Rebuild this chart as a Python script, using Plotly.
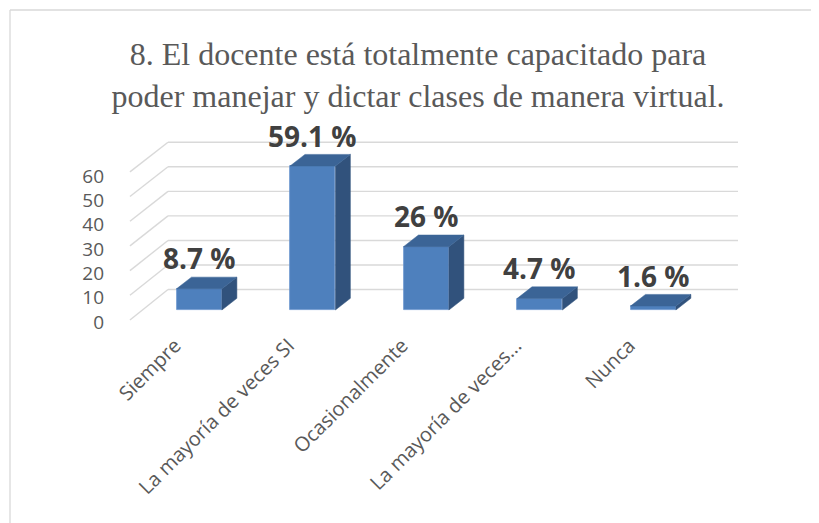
import plotly.graph_objects as go
import numpy as np

# ---- data ----
categories = ["Siempre", "La mayoría de veces SI", "Ocasionalmente",
              "La mayoría de veces...", "Nunca"]
values = [8.7, 59.1, 26, 4.7, 1.6]
y_ticks = [0, 10, 20, 30, 40, 50, 60]
title_text = "8. El docente está totalmente capacitado para<br>poder manejar y dictar clases de manera virtual."

# ---- style ----
FRONT = "#4E80BD"
TOP = "#3B6496"
SIDE = "#31527C"
GRID = "#D9D9D9"
TXT = "#595959"
BAR_W = 0.4
DX = 0.132      # depth offset in x units
DY = 4.8        # depth offset in y units
BACK_OFF = 8.4  # back wall offset (y units)
BACK_SC = 1.008
FRONT_OFF = -4.1
FRONT_SC = 1.014
X_FRONT = -0.61
X_BACK = -0.275
X_END = 4.747
PAGE_OFF = 8    # browser body margin
W, H = 819, 523

xs = np.arange(len(categories))

fig = go.Figure()

# front faces (bar trace)
fig.add_trace(go.Bar(x=xs, y=values, width=BAR_W, marker=dict(color=FRONT,
              line=dict(color="#6A96CE", width=0.8)), hoverinfo="skip",
              showlegend=False))

# side and top faces
for xi, v in zip(xs, values):
    hw = BAR_W / 2
    sx = [xi + hw, xi + hw + DX, xi + hw + DX, xi + hw, xi + hw]
    sy = [0, DY, v + DY, v, 0]
    fig.add_trace(go.Scatter(x=sx, y=sy, fill="toself", fillcolor=SIDE,
                             mode="lines", line=dict(color=SIDE, width=0.5),
                             hoverinfo="skip", showlegend=False))
    tx = [xi - hw, xi + hw, xi + hw + DX, xi - hw + DX, xi - hw]
    ty = [v, v, v + DY, v + DY, v]
    fig.add_trace(go.Scatter(x=tx, y=ty, fill="toself", fillcolor=TOP,
                             mode="lines", line=dict(color=TOP, width=0.5),
                             hoverinfo="skip", showlegend=False))
    fig.add_annotation(x=xi, y=v, text=f"{v:g} %", showarrow=False,
                       yanchor="middle", yshift=30.5,
                       font=dict(family="Open Sans", size=28, color="#404040",
                                 weight="bold"))

# gridlines: side wall diagonals + back wall (below traces)
for t in y_ticks:
    yf = FRONT_OFF + t * FRONT_SC
    yb = BACK_OFF + t * BACK_SC
    fig.add_shape(type="line", xref="x", yref="y", x0=X_FRONT, y0=yf,
                  x1=X_BACK, y1=yb, line=dict(color=GRID, width=1.4),
                  layer="below")
    fig.add_shape(type="line", xref="x", yref="y", x0=X_BACK, y0=yb,
                  x1=X_END, y1=yb, line=dict(color=GRID, width=1.4),
                  layer="below")

# plot area in reference pixels, shifted for the page margin
L, R, T, B = 120 - PAGE_OFF, 760 - PAGE_OFF, 130 - PAGE_OFF, 328 - PAGE_OFF
def px_x(p):
    return (p - PAGE_OFF - L) / (R - L)
def px_y(p):
    return (B - (p - PAGE_OFF)) / (B - T)
# outer chart border (left and top edges visible in the frame)
fig.add_shape(type="line", xref="paper", yref="paper",
              x0=px_x(10), x1=px_x(10), y0=px_y(530), y1=px_y(10),
              line=dict(color=GRID, width=1.3), layer="below")
fig.add_shape(type="line", xref="paper", yref="paper",
              x0=px_x(10), x1=px_x(830), y0=px_y(10), y1=px_y(10),
              line=dict(color=GRID, width=1.3), layer="below")

x0 = (120 - 199.2) / 113.5
x1 = (760 - 199.2) / 113.5
y1 = (310 - 130) / 2.435
y0 = (310 - 328) / 2.435

fig.update_layout(
    width=W, height=H,
    margin=dict(l=L, r=W - R, t=T, b=H - B),
    paper_bgcolor="white", plot_bgcolor="white",
    title=dict(text=title_text, x=(418 - PAGE_OFF) / W, xanchor="center",
               xref="container", yref="container",
               y=1 - 57 / H, yanchor="top",
               font=dict(family="Liberation Serif", size=32, color=TXT)),
    xaxis=dict(range=[x0, x1], tickvals=list(xs), ticktext=categories,
               tickangle=-45, showgrid=False, zeroline=False, showline=False,
               ticks="", ticklabelstandoff=1, ticklabelshift=-24,
               tickfont=dict(family="Open Sans", size=20, color=TXT)),
    yaxis=dict(range=[y0, y1], tickvals=y_ticks, showgrid=False,
               zeroline=False, showline=False, ticks="",
               ticklabelstandoff=15, ticklabelshift=12,
               tickfont=dict(family="Open Sans", size=19, color=TXT)),
    bargap=0,
)

fig.write_html("out.html")
